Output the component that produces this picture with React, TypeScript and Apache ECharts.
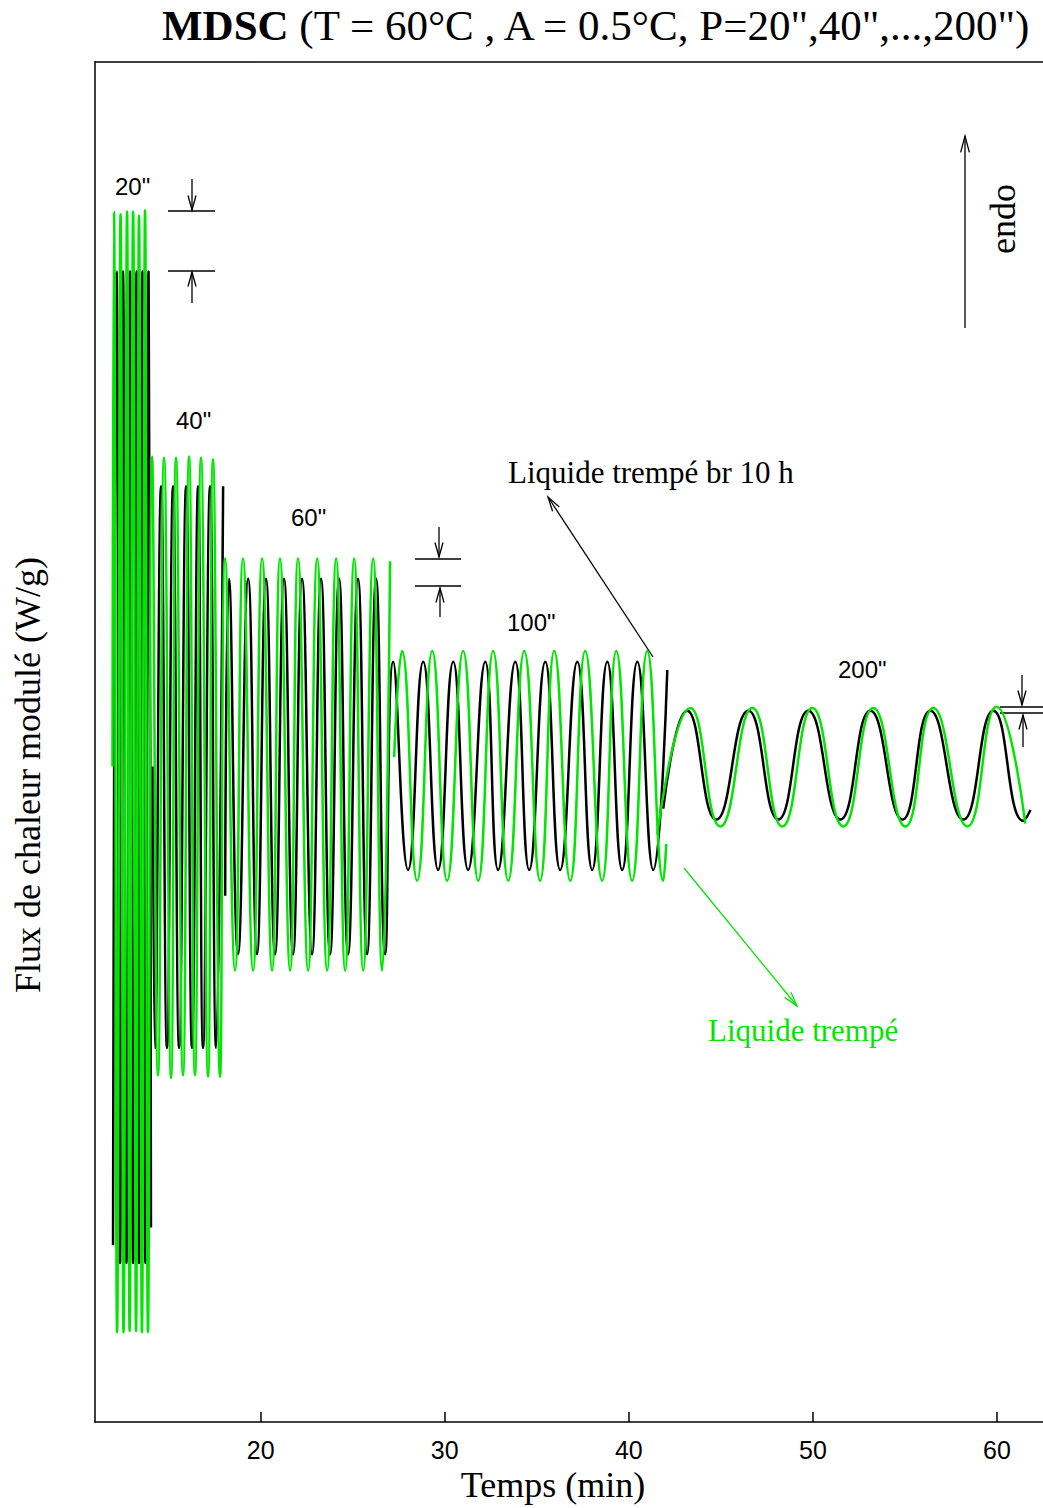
import { useEffect, useRef } from "react";
import * as echarts from "echarts";

type Pt = [number, number];

// Time axis ticks (min)
const xTicks = [20, 30, 40, 50, 60];

// Modulated heat flow (arbitrary units) against time (min), taken at the extrema of each period block.
// Quenched liquid annealed 10 h ("Liquide trempé br 10 h"), black trace.
const black20: Pt[] = [
  [11.98, 13.0], [12.17, 84.6], [12.36, 11.7], [12.52, 84.6], [12.71, 11.7], [12.9, 84.6], [13.07, 11.7],
  [13.26, 84.6], [13.39, 11.7], [13.58, 84.6], [13.74, 11.7], [13.91, 84.6], [14.04, 14.3],
];
const black40: Pt[] = [
  [14.15, 48.2], [14.26, 27.5], [14.59, 68.8], [14.91, 27.5], [15.24, 68.8], [15.57, 27.5], [15.95, 68.8],
  [16.27, 27.5], [16.6, 68.8], [16.87, 27.5], [17.25, 68.8], [17.58, 27.5], [17.96, 68.8],
];
const black60: Pt[] = [
  [18.07, 38.7], [18.28, 62.0], [18.77, 34.4], [19.32, 62.0], [19.8, 34.4], [20.29, 62.0], [20.78, 34.4],
  [21.27, 62.0], [21.76, 34.4], [22.25, 62.0], [22.79, 34.4], [23.28, 62.0], [23.77, 34.4], [24.26, 62.0],
  [24.75, 34.4], [25.29, 62.0], [25.78, 34.4], [26.27, 62.0], [26.76, 34.4],
];
const black100: Pt[] = [
  [27.2, 55.9], [28.01, 40.6], [28.83, 55.9], [29.64, 40.6], [30.46, 55.9], [31.27, 40.6], [32.2, 55.9],
  [32.9, 40.6], [33.83, 55.9], [34.59, 40.6], [35.46, 55.9], [36.27, 40.6], [37.2, 55.9], [38.01, 40.6],
  [38.83, 55.9], [39.64, 40.6], [40.46, 55.9], [41.33, 40.6], [42.09, 55.3],
];
const black200: Pt[] = [
  [41.87, 45.1], [43.17, 52.3], [44.75, 44.3], [46.49, 52.3], [48.12, 44.3], [49.75, 52.3], [51.49, 44.3],
  [53.12, 52.3], [54.86, 44.3], [56.38, 52.3], [58.17, 44.3], [59.8, 52.3], [61.43, 44.2], [61.82, 45.0],
];

// Quenched liquid ("Liquide trempé"), green trace.
const green20: Pt[] = [
  [11.95, 48.2], [12.03, 89.0], [12.2, 6.6], [12.39, 88.8], [12.55, 6.6], [12.74, 89.0], [12.88, 6.7],
  [13.07, 89.0], [13.23, 6.7], [13.39, 88.7], [13.55, 6.6], [13.72, 89.1], [13.88, 6.6],
];
const green40: Pt[] = [
  [14.1, 71.0], [14.42, 25.5], [14.75, 70.9], [15.13, 25.3], [15.4, 70.9], [15.78, 25.5], [16.11, 71.0],
  [16.43, 25.5], [16.76, 70.9], [17.14, 25.4], [17.41, 70.8], [17.79, 25.4],
];
const green60: Pt[] = [
  [18.07, 63.5], [18.61, 33.2], [19.04, 63.5], [19.59, 33.2], [20.08, 63.5], [20.62, 33.2], [21.05, 63.5],
  [21.6, 33.2], [22.03, 63.5], [22.58, 33.2], [23.07, 63.5], [23.61, 33.2], [24.1, 63.5], [24.59, 33.2],
  [25.08, 63.5], [25.57, 33.2], [26.11, 63.5], [26.6, 33.2], [27.03, 63.3],
];
const green100: Pt[] = [
  [27.25, 48.9], [27.68, 56.7], [28.5, 39.8], [29.32, 56.7], [30.13, 39.8], [31.0, 56.7], [31.82, 39.8],
  [32.63, 56.7], [33.45, 39.8], [34.32, 56.7], [35.18, 39.8], [35.95, 56.7], [36.82, 39.8], [37.63, 56.7],
  [38.55, 39.8], [39.32, 56.7], [40.18, 39.8], [41.0, 56.7], [41.87, 39.8], [42.03, 42.5],
];
const green200: Pt[] = [
  [41.54, 43.2], [43.34, 52.5], [44.97, 43.8], [46.71, 52.5], [48.34, 43.8], [49.97, 52.5], [51.65, 43.8],
  [53.28, 52.5], [55.02, 43.8], [56.54, 52.5], [58.39, 43.8], [59.97, 52.6], [61.54, 44.0],
];

const BLACK_NAME = "Liquide trempé br 10 h";
const GREEN_NAME = "Liquide trempé";

// Continuous recording runs (a new run starts where the trace is interrupted)
const blackRuns: Pt[][] = [black20, black40, [...black60, ...black100], black200];
const greenRuns: Pt[][] = [[...green20, ...green40, ...green60], green100, green200];

const SERIF = "'Liberation Serif', 'Times New Roman', serif";
const SANS = "'Liberation Sans', Arial, sans-serif";
const GREEN = "#00e600";
const X_MIN = 11;
const X_MAX = 62.5;

function lineSeries(name: string, data: Pt[], color: string) {
  return {
    type: "line",
    name,
    data,
    showSymbol: false,
    symbol: "none",
    smooth: 0.5,
    silent: true,
    lineStyle: { color, width: 2.5 },
    itemStyle: { color },
  };
}

function seg(x1: number, y1: number, x2: number, y2: number, color = "#000", w = 1.3) {
  return { type: "line", silent: true, shape: { x1, y1, x2, y2 }, style: { stroke: color, lineWidth: w } };
}

// Straight arrow with an open "V" head at (x2, y2)
function arrow(x1: number, y1: number, x2: number, y2: number, color = "#000", len = 15, spread = 0.27) {
  const a = Math.atan2(y1 - y2, x1 - x2);
  const w1 = [x2 + len * Math.cos(a + spread), y2 + len * Math.sin(a + spread)];
  const w2 = [x2 + len * Math.cos(a - spread), y2 + len * Math.sin(a - spread)];
  return [
    seg(x1, y1, x2, y2, color),
    {
      type: "polyline",
      silent: true,
      shape: { points: [w1, [x2, y2], w2] },
      style: { stroke: color, lineWidth: 1.3, fill: null },
    },
  ];
}

function label(text: string, x: number, y: number, font: string, size: number, color = "#000", rotation = 0, align = "left") {
  return {
    type: "text",
    silent: true,
    x,
    y,
    rotation,
    style: {
      text,
      fontFamily: font,
      fontSize: size,
      fill: color,
      align,
      textAlign: align,
      verticalAlign: "middle",
      textVerticalAlign: "middle",
    },
  };
}

export default function App() {
  const ref = useRef<HTMLDivElement>(null);

  useEffect(() => {
    if (!ref.current) return;
    const chart = echarts.init(ref.current, null, { renderer: "svg" });

    const graphic: any[] = [
      // period labels
      label('20"', 115, 186, SANS, 24),
      label('40"', 176, 420, SANS, 24),
      label('60"', 291, 517, SANS, 24),
      label('100"', 507, 622, SANS, 24),
      label('200"', 838, 669, SANS, 24),
      // trace annotations
      label(BLACK_NAME, 508, 472, SERIF, 31),
      ...arrow(653, 657, 548, 497),
      label(GREEN_NAME, 708, 1030, SERIF, 31, GREEN),
      ...arrow(684, 868, 797, 1006, GREEN),
      // endothermic direction
      ...arrow(965, 328, 965, 136, "#000", 17, 0.26),
      label("endo", 1003, 219, SERIF, 36, "#000", Math.PI / 2, "center"),
      // amplitude difference markers
      seg(168, 211, 215, 211),
      seg(168, 271, 215, 271),
      ...arrow(192, 179, 192, 210),
      ...arrow(192, 303, 192, 272),
      seg(415, 559, 461, 559),
      seg(415, 586, 461, 586),
      ...arrow(439, 527, 439, 557),
      ...arrow(440, 617, 440, 588),
      seg(1000, 707, 1045, 707),
      seg(1000, 713, 1045, 713),
      ...arrow(1022, 675, 1022, 705),
      ...arrow(1023, 747, 1023, 715),
    ];

    const frameLine = { show: true, lineStyle: { color: "#000", width: 1.5 } };

    chart.setOption({
      animation: false,
      backgroundColor: "#fff",
      title: {
        text: '{b|MDSC}{r| (T = 60°C , A = 0.5°C, P=20",40",...,200")}',
        left: 162,
        top: 4,
        padding: 0,
        textStyle: {
          fontWeight: "normal",
          rich: {
            b: { fontFamily: SERIF, fontSize: 43, fontWeight: "bold", color: "#000" },
            r: { fontFamily: SERIF, fontSize: 43, fontWeight: "normal", color: "#000" },
          },
        },
      },
      grid: { left: 95, right: 0, top: 62, bottom: 80, show: false },
      xAxis: [
        {
          type: "value",
          min: X_MIN,
          max: X_MAX,
          position: "bottom",
          name: "Temps (min)",
          nameLocation: "middle",
          nameGap: 42,
          nameTextStyle: { fontFamily: SERIF, fontSize: 36, color: "#000", padding: [0, 32, 0, 0] },
          axisLine: frameLine,
          axisTick: {
            show: true,
            inside: true,
            length: 10,
            customValues: xTicks,
            lineStyle: { color: "#000", width: 1.5 },
          },
          axisLabel: { customValues: xTicks, fontFamily: SANS, fontSize: 25, color: "#000", margin: 15 },
          splitLine: { show: false },
        },
        {
          // upper frame edge
          type: "value",
          min: X_MIN,
          max: X_MAX,
          position: "top",
          axisLine: frameLine,
          axisTick: { show: false },
          axisLabel: { show: false },
          splitLine: { show: false },
        },
      ],
      yAxis: {
        type: "value",
        min: 0,
        max: 100,
        position: "left",
        name: "Flux de chaleur modulé (W/g)",
        nameLocation: "middle",
        nameGap: 49,
        nameRotate: 90,
        nameTextStyle: { fontFamily: SERIF, fontSize: 36, color: "#000", padding: [0, 66, 0, 0] },
        axisLine: frameLine,
        axisTick: { show: false },
        axisLabel: { show: false },
        splitLine: { show: false },
      },
      series: [
        ...blackRuns.map((d) => lineSeries(BLACK_NAME, d, "#000")),
        ...greenRuns.map((d) => lineSeries(GREEN_NAME, d, GREEN)),
      ],
      graphic,
    });

    return () => chart.dispose();
  }, []);

  return (
    <div
      ref={ref}
      style={{ position: "absolute", left: 0, top: 0, width: 1043, height: 1508, background: "#fff" }}
    />
  );
}
